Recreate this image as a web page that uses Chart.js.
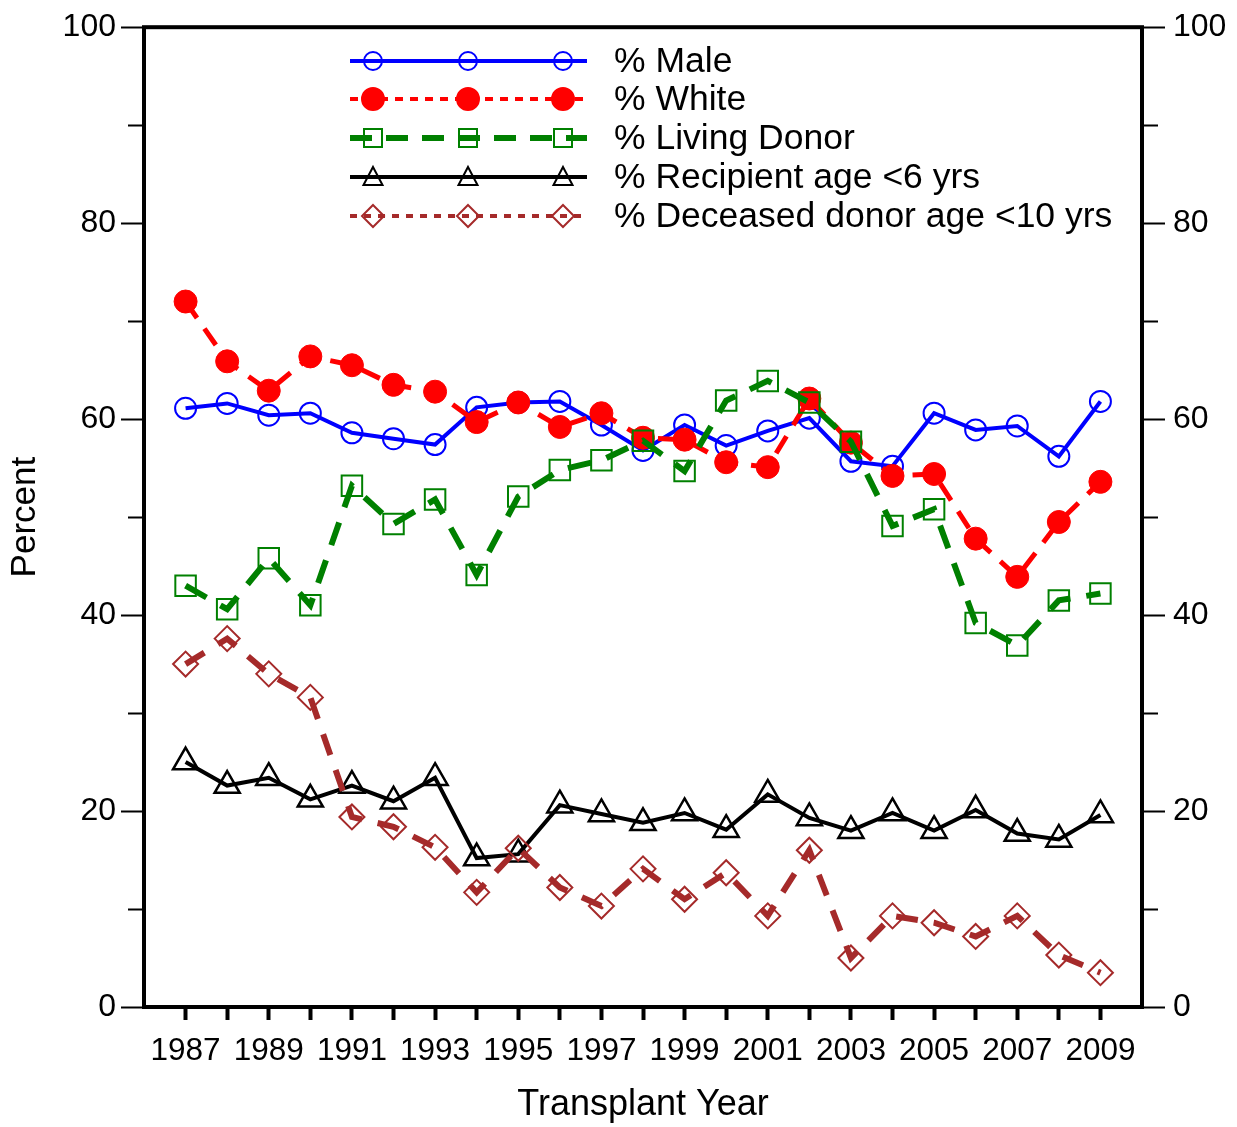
<!DOCTYPE html>
<html>
<head>
<meta charset="utf-8">
<title>Transplant trends</title>
<script src="https://cdn.jsdelivr.net/npm/chart.js@4.4.1/dist/chart.umd.min.js"></script>
<style>
    body { margin: 0; background: #fff; }
    #wrap { width: 1237px; height: 1127px; position: relative; }
</style>
</head>
<body>
<div id="wrap"><canvas id="trendChart"></canvas></div>
<script>
// Chart data
const years = [1987, 1988, 1989, 1990, 1991, 1992, 1993, 1994, 1995, 1996, 1997, 1998,
               1999, 2000, 2001, 2002, 2003, 2004, 2005, 2006, 2007, 2008, 2009];
const pctMale = [61.1, 61.6, 60.4, 60.6, 58.6, 58.0, 57.4, 61.2, 61.7, 61.8, 59.4, 56.8,
                 59.4, 57.3, 58.8, 60.1, 55.7, 55.2, 60.6, 58.9, 59.3, 56.2, 61.8];
const pctWhite = [72.0, 65.9, 62.9, 66.4, 65.5, 63.5, 62.8, 59.7, 61.7, 59.2, 60.6, 58.1,
                  57.9, 55.6, 55.1, 62.1, 57.6, 54.2, 54.4, 47.8, 43.9, 49.5, 53.6];
const pctLivingDonor = [43.0, 40.6, 45.8, 41.0, 53.2, 49.3, 51.8, 44.1, 52.1, 54.8, 55.8, 57.8,
                        54.7, 61.9, 63.9, 61.7, 57.7, 49.1, 50.8, 39.2, 36.9, 41.5, 42.2];
const pctRecipientUnder6 = [25.0, 22.6, 23.4, 21.2, 22.6, 21.0, 23.4, 15.2, 15.6, 20.6, 19.7, 18.8,
                            19.8, 18.1, 21.7, 19.3, 18.0, 19.8, 18.0, 20.1, 17.7, 17.1, 19.6];
const pctDeceasedUnder10 = [35.0, 37.6, 34.0, 31.6, 19.4, 18.4, 16.3, 11.7, 16.2, 12.2, 10.3, 14.1,
                            11.0, 13.7, 9.3, 16.0, 5.0, 9.3, 8.6, 7.2, 9.3, 5.3, 3.5];
const seriesLabels = ['% Male', '% White', '% Living Donor', '% Recipient age <6 yrs', '% Deceased donor age <10 yrs'];
const yMajorTicks = [0, 20, 40, 60, 80, 100];
const yMinorTicks = [10, 30, 50, 70, 90];

const FONT = '"Liberation Sans", Arial, Helvetica, sans-serif';

const toPoints = vals => years.map((yr, i) => ({ x: yr, y: vals[i] }));

// legend look for each series (line + marker drawn by hand)
const legendStyles = [
    { color: '#0000ff', width: 4, dash: [], marker: 'circle', r: 9, fill: false },
    { color: '#ff0000', width: 4, dash: [8, 7], marker: 'dot', r: 11, fill: true },
    { color: '#008000', width: 6, dash: [22, 14], marker: 'square', r: 9, fill: false },
    { color: '#000000', width: 4, dash: [], marker: 'triangle', r: 10, fill: false },
    { color: '#a52a2a', width: 4, dash: [7, 7], marker: 'diamond', r: 11, fill: false }
];

function drawMarker(ctx, type, x, y, r, color, fill) {
    ctx.save();
    ctx.setLineDash([]);
    ctx.lineWidth = 2;
    ctx.strokeStyle = color;
    ctx.fillStyle = fill ? color : '#fff';
    ctx.beginPath();
    if (type === 'circle' || type === 'dot') {
        ctx.arc(x, y, r, 0, Math.PI * 2);
    } else if (type === 'square') {
        ctx.rect(x - r, y - r, 2 * r, 2 * r);
    } else if (type === 'triangle') {
        ctx.moveTo(x, y - r);
        ctx.lineTo(x + r * 0.95, y + r * 0.8);
        ctx.lineTo(x - r * 0.95, y + r * 0.8);
        ctx.closePath();
    } else if (type === 'diamond') {
        ctx.moveTo(x, y - r);
        ctx.lineTo(x + r, y);
        ctx.lineTo(x, y + r);
        ctx.lineTo(x - r, y);
        ctx.closePath();
    }
    if (fill) ctx.fill();
    ctx.stroke();
    ctx.restore();
}

const framePlugin = {
    id: 'frameAndLegend',
    afterDatasetsDraw(chart) {
        const { ctx, chartArea: a, scales } = chart;
        ctx.save();
        // minor y ticks, both sides
        ctx.strokeStyle = '#000';
        ctx.lineWidth = 2;
        yMinorTicks.forEach(v => {
            const py = Math.round(scales.y.getPixelForValue(v)) + 0.5;
            ctx.beginPath();
            ctx.moveTo(a.left - 16, py);
            ctx.lineTo(a.left, py);
            ctx.moveTo(a.right, py);
            ctx.lineTo(a.right + 16, py);
            ctx.stroke();
        });
        // plot frame
        ctx.lineWidth = 4;
        ctx.strokeRect(a.left, a.top, a.right - a.left, a.bottom - a.top);
        ctx.restore();
    },
    afterDraw(chart) {
        const ctx = chart.ctx;
        const rows = [61, 99, 138, 177, 216];
        const x0 = 350, x1 = 587, marks = [373, 468, 563];
        ctx.save();
        legendStyles.forEach((st, i) => {
            const y = rows[i];
            ctx.strokeStyle = st.color;
            ctx.lineWidth = st.width;
            ctx.setLineDash(st.dash);
            ctx.beginPath();
            ctx.moveTo(x0, y);
            ctx.lineTo(x1, y);
            ctx.stroke();
            marks.forEach(mx => drawMarker(ctx, st.marker, mx, y, st.r, st.color, st.fill));
            ctx.setLineDash([]);
            ctx.fillStyle = '#000';
            ctx.font = '35.5px ' + FONT;
            ctx.textAlign = 'left';
            ctx.textBaseline = 'middle';
            ctx.fillText(seriesLabels[i], 614, y + 1);
        });
        ctx.restore();
    }
};

document.addEventListener('DOMContentLoaded', () => {
    const ctx = document.getElementById('trendChart').getContext('2d');

    const yAxis = (position) => ({
        type: 'linear',
        position: position,
        min: 0,
        max: 100,
        afterBuildTicks: scale => { scale.ticks = yMajorTicks.map(v => ({ value: v })); },
        afterFit: scale => { scale.width = position === 'left' ? 144 : 95; },
        grid: {
            display: true,
            drawOnChartArea: false,
            drawTicks: true,
            tickLength: 23,
            tickWidth: 2,
            tickColor: '#000'
        },
        border: { display: false },
        ticks: {
            padding: position === 'left' ? 5 : 8,
            color: '#000',
            font: { family: FONT, size: 32 }
        },
        title: {
            display: position === 'left',
            text: 'Percent',
            color: '#000',
            font: { family: FONT, size: 35 },
            padding: { top: 4, bottom: 0 }
        }
    });

    new Chart(ctx, {
        type: 'line',
        data: {
            datasets: [
                {
                    label: seriesLabels[0],
                    data: toPoints(pctMale),
                    borderColor: '#0000ff',
                    borderWidth: 4,
                    pointStyle: 'circle',
                    pointRadius: 10.5,
                    pointBorderWidth: 2,
                    pointBackgroundColor: 'rgba(0,0,0,0)',
                    pointBorderColor: '#0000ff',
                    order: 5
                },
                {
                    label: seriesLabels[1],
                    data: toPoints(pctWhite),
                    borderColor: '#ff0000',
                    borderWidth: 5,
                    borderDash: [20, 13],
                    pointStyle: 'circle',
                    pointRadius: 11.5,
                    pointBorderWidth: 1,
                    pointBackgroundColor: '#ff0000',
                    pointBorderColor: '#ff0000',
                    order: 4
                },
                {
                    label: seriesLabels[2],
                    data: toPoints(pctLivingDonor),
                    borderColor: '#008000',
                    borderWidth: 6,
                    borderDash: [24, 16],
                    pointStyle: 'rect',
                    pointRadius: 14.5,
                    pointBorderWidth: 2,
                    pointBackgroundColor: 'rgba(0,0,0,0)',
                    pointBorderColor: '#008000',
                    order: 3
                },
                {
                    label: seriesLabels[3],
                    data: toPoints(pctRecipientUnder6),
                    borderColor: '#000000',
                    borderWidth: 4,
                    pointStyle: 'triangle',
                    pointRadius: 14.5,
                    pointBorderWidth: 2.5,
                    pointBackgroundColor: 'rgba(0,0,0,0)',
                    pointBorderColor: '#000000',
                    order: 2
                },
                {
                    label: seriesLabels[4],
                    data: toPoints(pctDeceasedUnder10),
                    borderColor: '#a52a2a',
                    borderWidth: 6,
                    borderDash: [22, 16],
                    pointStyle: 'rectRot',
                    pointRadius: 12.5,
                    pointBorderWidth: 2,
                    pointBackgroundColor: 'rgba(0,0,0,0)',
                    pointBorderColor: '#a52a2a',
                    order: 1
                }
            ]
        },
        options: {
            responsive: true,
            maintainAspectRatio: false,
            animation: false,
            layout: { padding: { top: 22, left: 0, right: 0, bottom: 0 } },
            plugins: {
                legend: { display: false },
                tooltip: { enabled: false }
            },
            elements: { line: { tension: 0, fill: false } },
            scales: {
                x: {
                    type: 'linear',
                    position: 'bottom',
                    min: 1986,
                    max: 2010,
                    afterBuildTicks: scale => { scale.ticks = years.map(v => ({ value: v })); },
                    afterFit: scale => { scale.height = 120; },
                    grid: {
                        display: true,
                        drawOnChartArea: false,
                        drawTicks: true,
                        tickLength: 13,
                        tickWidth: 4,
                        tickColor: '#000'
                    },
                    border: { display: false },
                    ticks: {
                        autoSkip: false,
                        maxRotation: 0,
                        padding: 12,
                        color: '#000',
                        font: { family: FONT, size: 31.5 },
                        callback: value => (value % 2 === 1 ? String(value) : '')
                    },
                    title: {
                        display: true,
                        text: 'Transplant Year',
                        color: '#000',
                        font: { family: FONT, size: 36 },
                        padding: { top: 0, bottom: 0 }
                    }
                },
                y: yAxis('left'),
                y2: yAxis('right')
            }
        },
        plugins: [framePlugin]
    });
});
</script>
</body>
</html>
